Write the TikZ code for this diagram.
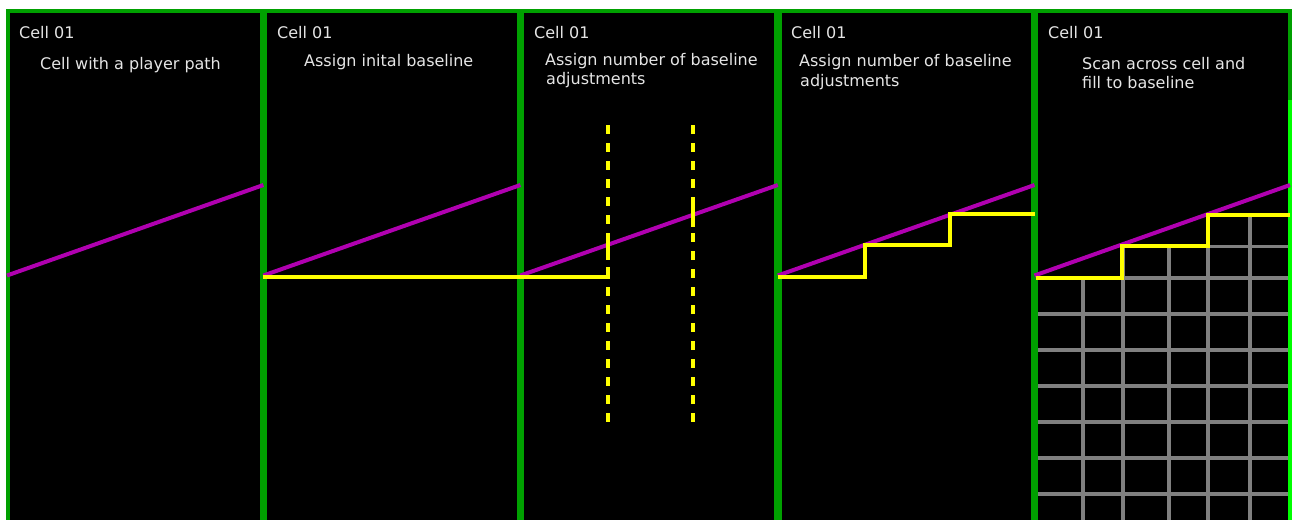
\documentclass[tikz,border=0pt]{standalone}
\usepackage{fontspec}
\setmainfont{DejaVu Sans}
\usepackage{xcolor}
\definecolor{cellGreen}{RGB}{0, 160, 0}
\definecolor{cellLime}{RGB}{0, 255, 0}
\definecolor{pathPurple}{RGB}{176, 0, 176}
\definecolor{baseYellow}{RGB}{255, 255, 0}
\definecolor{fillGray}{RGB}{128, 128, 128}
\colorlet{textGray}{white!90!black}
\tikzset{
    cellBorder/.style={draw=cellGreen, line width=4pt},
    divider/.style={draw=cellGreen, line width=7.5pt},
    player path/.style={draw=pathPurple, line width=4pt},
    yellowLine/.style={draw=baseYellow, line width=4pt},
    adjustLine/.style={yellowLine, dash pattern=on 9pt off 9pt},
    fillGrid/.style={draw=fillGray, line width=3.3pt},
    cellText/.style={text=textGray, anchor=base west, inner sep=0pt,
        font=\fontsize{16}{19}\selectfont}
}

\begin{document}
\begin{tikzpicture}[x=1pt, y=-1pt]
    % Fix the page to the reference size
    \fill[white] (0,0) rectangle (1298,520);
    \useasboundingbox (0,0) rectangle (1298,520);

    % Draw the black cells and their frame
    \fill[black] (6,9) rectangle (1292,520);
    \draw[cellBorder] (6,11) -- (1292,11);
    \draw[cellBorder] (8,9) -- (8,520);
    \draw[cellBorder] (1290,9) -- (1290,100);
    \draw[cellBorder, draw=cellLime] (1290,100) -- (1290,520);
    \foreach \x in {263.4, 520.4, 777.8, 1034.5}
        \draw[divider] (\x,11) -- (\x,520);

    % Draw the fill grid of the last cell
    \draw[fillGrid] (1122,278) -- (1288,278);
    \draw[fillGrid] (1208,246.5) -- (1288,246.5);
    \foreach \y in {314, 350, 386, 422, 458, 494}
        \draw[fillGrid] (1038,\y) -- (1288,\y);
    \draw[fillGrid] (1083,278) -- (1083,520);
    \draw[fillGrid] (1123,246) -- (1123,520);
    \draw[fillGrid] (1169,246) -- (1169,520);
    \draw[fillGrid] (1208,215) -- (1208,520);
    \draw[fillGrid] (1250,215) -- (1250,520);
    \draw[cellBorder, draw=cellLime] (1290,200) -- (1290,520);

    % Draw the player path in every cell
    \foreach \xa/\xb in {7/263.4, 263.4/520.4, 520.4/777.8, 777.8/1034.5, 1034.5/1290}
        \draw[player path] (\xa,275.5) -- (\xb,185);

    % Draw the baselines
    \draw[yellowLine] (263.4,276.5) -- (609.5,276.5);
    \draw[adjustLine] (608,125) -- (608,423);
    \draw[adjustLine] (693,125) -- (693,423);
    \draw[yellowLine] (608,237) -- (608,258);
    \draw[yellowLine] (608,267) -- (608,278);
    \draw[yellowLine] (693,202) -- (693,227);
    \draw[yellowLine] (777.8,276.5) -- (865,276.5) -- (865,245) -- (950,245)
        -- (950,214) -- (1034.5,214);
    \draw[yellowLine] (1036,277.5) -- (1122,277.5) -- (1122,246) -- (1208,246)
        -- (1208,215) -- (1290,215);

    % Write the cell texts
    \foreach \x [count=\i] in {19, 277, 534, 791, 1048}
        \node[cellText] (cell-\i) at (\x,38.5) {Cell 01};
    \node[cellText] (step-1) at (40,69) {Cell with a player path};
    \node[cellText] (step-2) at (304,66) {Assign inital baseline};
    \node[cellText] (step-3a) at (545,65) {Assign number of baseline};
    \node[cellText] (step-3b) at (546,84.5) {adjustments};
    \node[cellText] (step-4a) at (799,66) {Assign number of baseline};
    \node[cellText] (step-4b) at (800,86) {adjustments};
    \node[cellText] (step-5a) at (1082,69) {Scan across cell and};
    \node[cellText] (step-5b) at (1082,88.5) {fill to baseline};
\end{tikzpicture}
\end{document}
